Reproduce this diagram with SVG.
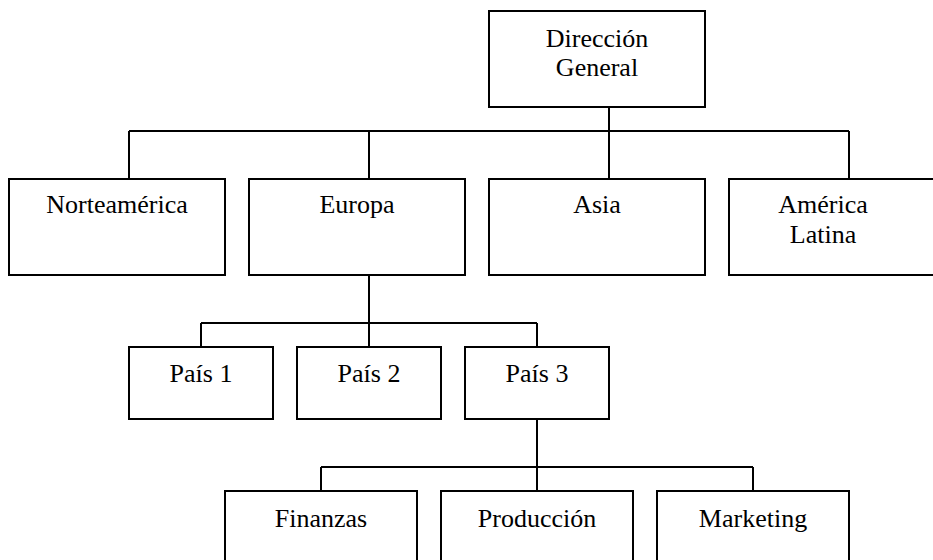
<svg xmlns="http://www.w3.org/2000/svg" width="933" height="560" viewBox="0 0 933 560">
<style>
.box{fill:#fff;stroke:#000;stroke-width:2}
.ln{fill:none;stroke:#000;stroke-width:2}
text{font-family:"Liberation Serif","Times New Roman",serif;font-size:26px;fill:#000;text-anchor:middle}
</style>
<rect width="933" height="560" fill="#fff"/>
<g id="connectors">
<path class="ln" d="M609 107V131M129 131H849M129 131V179M369 131V179M609 131V179M849 131V179"/>
<path class="ln" d="M369 275V323M201 323H537M201 323V347M369 323V347M537 323V347"/>
<path class="ln" d="M537 419V467M321 467H753M321 467V491M537 467V491M753 467V491"/>
</g>
<g id="n-direccion"><rect class="box" x="489" y="11" width="216" height="96"/><text x="597" y="47">Dirección</text><text x="597" y="76">General</text></g>
<g id="n-norteamerica"><rect class="box" x="9" y="179" width="216" height="96"/><text x="117" y="213">Norteamérica</text></g>
<g id="n-europa"><rect class="box" x="249" y="179" width="216" height="96"/><text x="357" y="213">Europa</text></g>
<g id="n-asia"><rect class="box" x="489" y="179" width="216" height="96"/><text x="597" y="213">Asia</text></g>
<g id="n-america-latina"><rect class="box" x="729" y="179" width="216" height="96"/><text x="823" y="213">América</text><text x="823" y="243">Latina</text></g>
<g id="n-pais1"><rect class="box" x="129" y="347" width="144" height="72"/><text x="201" y="382">País 1</text></g>
<g id="n-pais2"><rect class="box" x="297" y="347" width="144" height="72"/><text x="369" y="382">País 2</text></g>
<g id="n-pais3"><rect class="box" x="465" y="347" width="144" height="72"/><text x="537" y="382">País 3</text></g>
<g id="n-finanzas"><rect class="box" x="225" y="491" width="192" height="80"/><text x="321" y="527">Finanzas</text></g>
<g id="n-produccion"><rect class="box" x="441" y="491" width="192" height="80"/><text x="537" y="527">Producción</text></g>
<g id="n-marketing"><rect class="box" x="657" y="491" width="192" height="80"/><text x="753" y="527">Marketing</text></g>
</svg>
